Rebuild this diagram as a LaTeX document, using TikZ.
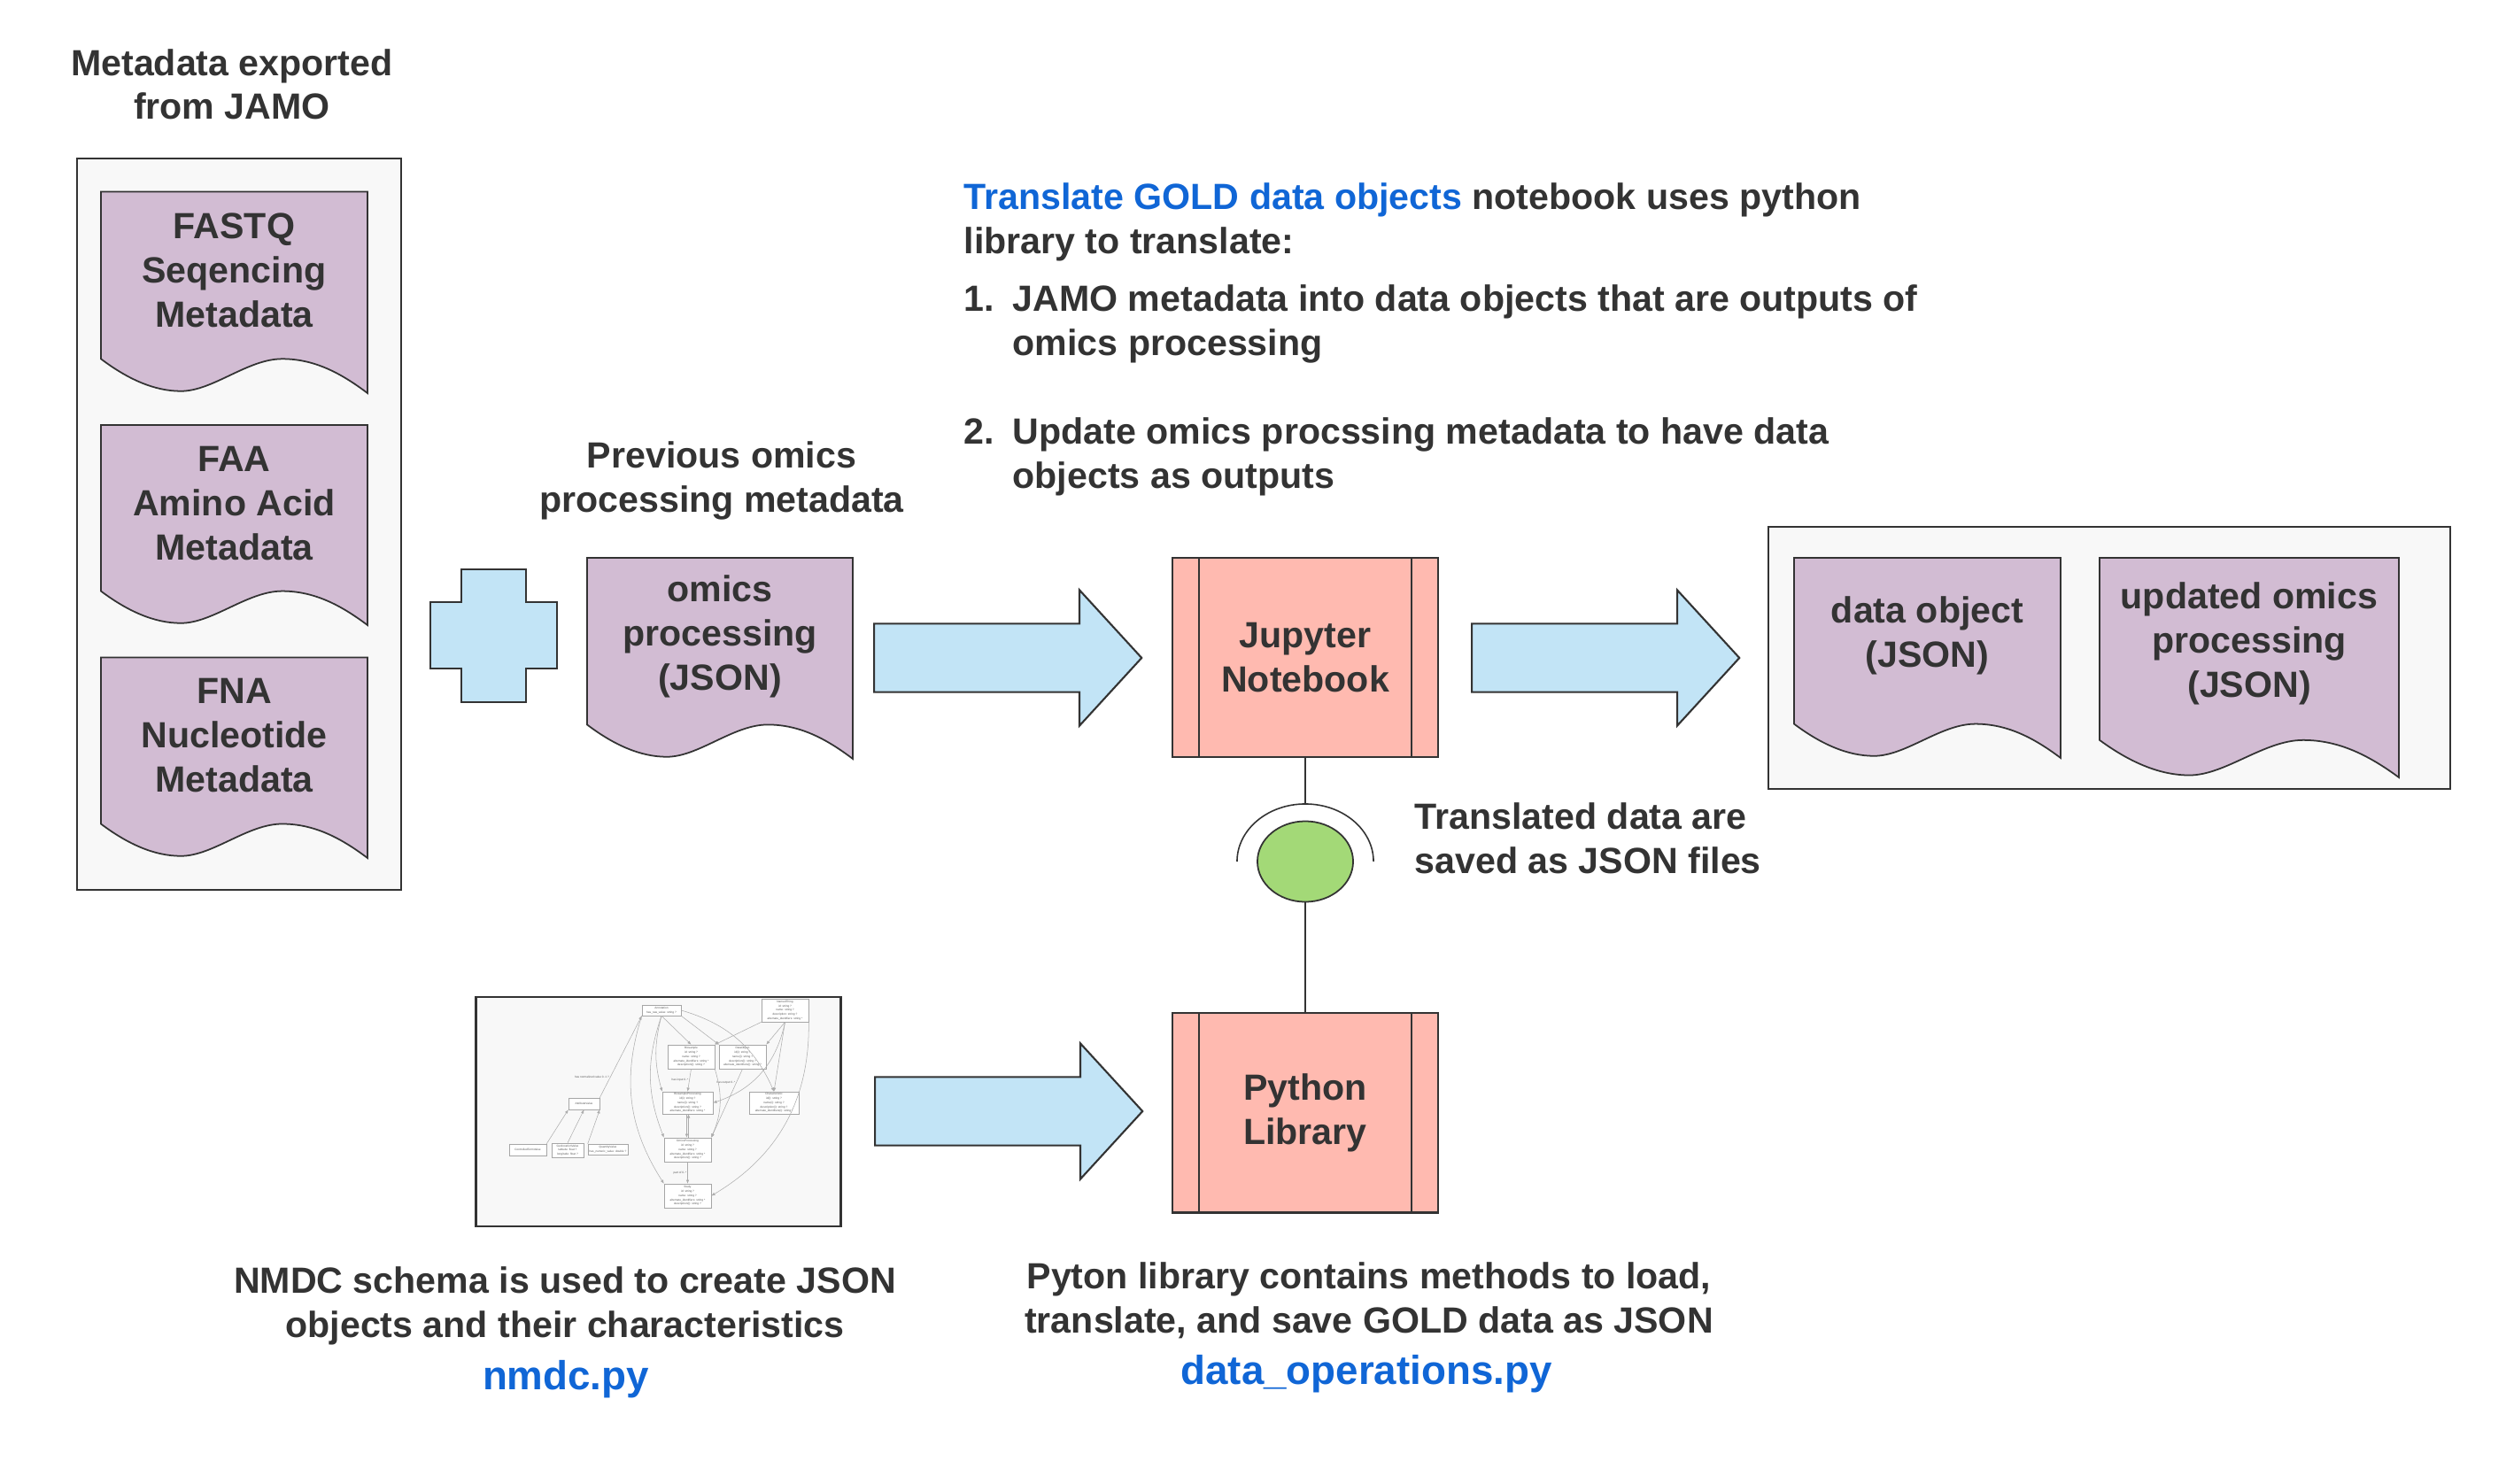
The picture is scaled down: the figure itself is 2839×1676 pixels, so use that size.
\documentclass[tikz,border=0pt]{standalone}
\usepackage{fontspec}
\setmainfont{Liberation Sans}
\usetikzlibrary{shapes,arrows,arrows.meta,positioning,calc}

\definecolor{textgray}{HTML}{333333}
\definecolor{panelfill}{HTML}{F8F8F8}
\definecolor{docfill}{HTML}{D2BCD3}
\definecolor{bluefill}{HTML}{C2E4F6}
\definecolor{procfill}{HTML}{FFBAB0}
\definecolor{greenfill}{HTML}{A3D977}
\definecolor{linkblue}{HTML}{1066D6}

\newcommand{\labelfont}{\fontsize{11.7}{14.2}\selectfont\bfseries}
\newcommand{\linkfont}{\fontsize{13}{15.6}\selectfont\bfseries}
\newcommand{\umlfont}{\fontsize{0.9}{1.35}\selectfont}

\begin{document}
\begin{tikzpicture}[x=0.01cm, y=-0.01cm]
    % Define styles
    \tikzstyle{panel}=[rectangle,draw=textgray,fill=panelfill,line width=0.6pt]
    \tikzstyle{doctext}=[align=center,text=textgray,font=\labelfont,inner sep=0pt]
    \tikzstyle{notetext}=[align=center,text=textgray,font=\labelfont,inner sep=0pt]
    \tikzstyle{linktext}=[text=linkblue,font=\linkfont,inner sep=0pt]
    \tikzstyle{bigarrow}=[single arrow,draw=textgray,fill=bluefill,line width=0.6pt,minimum height=3.02cm,minimum width=1.51cm,single arrow head extend=0.38cm,single arrow tip angle=95,inner xsep=0pt,inner ysep=0.375cm]
    \tikzstyle{procbox}=[rectangle,draw=textgray,fill=procfill,line width=0.6pt,minimum width=3cm,minimum height=2.25cm,align=center,text=textgray,font=\labelfont,
        path picture={\draw[textgray,line width=0.6pt] ([xshift=0.3cm]path picture bounding box.north west) -- ([xshift=0.3cm]path picture bounding box.south west)
            ([xshift=-0.3cm]path picture bounding box.north east) -- ([xshift=-0.3cm]path picture bounding box.south east);}]
    \tikzstyle{thinline}=[draw=textgray,line width=0.45pt]
    \tikzstyle{schemabox}=[rectangle,draw=textgray,fill=panelfill,line width=0.8pt]
    \tikzstyle{umlclass}=[rectangle,draw=gray!70,fill=white,line width=0.15pt,inner sep=0.2pt,align=center,font=\umlfont,text=gray!70!black]
    \tikzstyle{umledge}=[draw=gray!65,line width=0.15pt,-{Latex[length=1.2pt,width=1pt]}]
    \tikzstyle{umllabel}=[font=\umlfont,text=gray!70!black,inner sep=0.3pt]
    \tikzset{pics/docshape/.style n args={3}{code={
        \filldraw[draw=textgray,fill=docfill,line width=0.5pt] (0,0) -- (#1,0) -- (#1,#2)
            .. controls (.9*#1,.9*#2) and (.8*#1,.83*#2) .. (.68*#1,.83*#2)
            .. controls (.55*#1,.83*#2) and (.42*#1,.99*#2) .. (.3*#1,.99*#2)
            .. controls (.2*#1,.99*#2) and (.1*#1,.93*#2) .. (0,.83*#2) -- cycle;
        \node[doctext] (-txt) at (.5*#1,.39*#2) {#3};
    }}}

    \fill[white] (0,0) rectangle (2839,1676);
    \useasboundingbox (0,0) rectangle (2839,1676);

    % JAMO metadata
    \node[notetext, anchor=base] (jamotitle) at (262,135) {Metadata exported\\from JAMO};
    \node[panel, minimum width=3.66cm, minimum height=8.26cm] (jamopanel) at (270,592) {};
    \pic (fastq) at (114,216.5) {docshape={301}{227.5}{FASTQ\\Seqencing\\Metadata}};
    \pic (faa) at (114,480) {docshape={301}{226}{FAA\\Amino Acid\\Metadata}};
    \pic (fna) at (114,742.5) {docshape={301}{226.5}{FNA\\Nucleotide\\Metadata}};

    % Previous omics processing
    \filldraw[draw=textgray,fill=bluefill,line width=0.6pt] (521,643) -- (594,643) -- (594,680) -- (629,680) -- (629,755) -- (594,755)
        -- (594,793) -- (521,793) -- (521,755) -- (486,755) -- (486,680) -- (521,680) -- cycle;
    \node[notetext, anchor=base] (prevlabel) at (815,578) {Previous omics\\processing metadata};
    \pic (omics) at (663,630) {docshape={300}{227}{omics\\processing\\(JSON)}};

    % Notebook
    \node[bigarrow, anchor=tail] (arrowin) at (986,743) {};
    \node[procbox] (jupyter) at (1474,742.5) {Jupyter\\Notebook};
    \node[bigarrow, anchor=tail] (arrowout) at (1661,743) {};

    % Outputs
    \node[panel, minimum width=7.69cm, minimum height=2.96cm] (outpanel) at (2382,743) {};
    \pic (dataobj) at (2026,630) {docshape={301}{226}{data object\\(JSON)}};
    \pic (updated) at (2371,630) {docshape={338}{248}{updated omics\\processing\\(JSON)}};

    % Notebook description
    \node[notetext, align=left, anchor=base west] (intro) at (1088,286.7) {{\color{linkblue}Translate GOLD data objects} notebook uses python\\library to translate:};
    \node[notetext, anchor=base west] (num1) at (1088,351.7) {1.};
    \node[notetext, align=left, anchor=base west] (item1) at (1143,401.7) {JAMO metadata into data objects that are outputs of\\omics processing};
    \node[notetext, anchor=base west] (num2) at (1088,501.7) {2.};
    \node[notetext, align=left, anchor=base west] (item2) at (1143,551.7) {Update omics procssing metadata to have data\\objects as outputs};

    % Python library
    \node[procbox, below=2.87cm of jupyter] (python) {Python\\Library};
    \node[ellipse, draw=textgray, fill=greenfill, line width=0.5pt, minimum width=1.08cm, minimum height=0.91cm, inner sep=0pt] (saved) at (1474,973) {};
    \draw[thinline] (jupyter.south) -- ([yshift=0.65cm]saved.center);
    \draw[thinline] ([xshift=-0.77cm]saved.center) arc[start angle=180, end angle=0, x radius=0.77cm, y radius=0.65cm];
    \draw[thinline] (saved.south) -- (python.north);
    \node[notetext, align=left, anchor=base west] (savedlabel) at (1597,986.5) {Translated data are\\saved as JSON files};
    \node[bigarrow, anchor=tail] (arrowlib) at (987,1255) {};

    % NMDC schema thumbnail
    \node[schemabox, minimum width=4.11cm, minimum height=2.59cm] (schema) at (743.5,1255.5) {};
    \node[umlclass, minimum width=0.44cm, minimum height=0.12cm] (ann) at (747,1141) {Annotation\\has\_raw\_value: string ?};
    \node[umlclass, minimum width=0.53cm, minimum height=0.26cm] (named) at (886.5,1141) {NamedThing\\id: string ?\\name: string ?\\description: string ?\\alternate\_identifiers: string *};
    \node[umlclass, minimum width=0.53cm, minimum height=0.27cm] (biosample) at (780.5,1193.5) {Biosample\\id: string ?\\name: string ?\\alternate\_identifiers: string *\\description(i): string ?};
    \node[umlclass, minimum width=0.53cm, minimum height=0.27cm] (dataobject) at (838.5,1193.5) {DataObject\\id(i): string ?\\name(i): string ?\\description(i): string ?\\alternate\_identifiers(i): string ?};
    \node[umlclass, minimum width=0.35cm, minimum height=0.13cm] (attrval) at (659.5,1246.5) {AttributeValue};
    \node[umlclass, minimum width=0.57cm, minimum height=0.25cm] (bioproc) at (776.5,1245.5) {BiosampleProcessing\\id(i): string ?\\name(i): string ?\\description(i): string ?\\alternate\_identifiers: string *};
    \node[umlclass, minimum width=0.56cm, minimum height=0.25cm] (charac) at (874,1245.5) {Characteristic\\id(i): string ?\\name(i): string ?\\description(i): string ?\\alternate\_identifiers(i): string *};
    \node[umlclass, minimum width=0.42cm, minimum height=0.13cm] (ctv) at (596,1298.5) {ControlledTermValue};
    \node[umlclass, minimum width=0.36cm, minimum height=0.16cm] (geo) at (641,1299) {GeolocationValue\\latitude: float ?\\longitude: float ?};
    \node[umlclass, minimum width=0.45cm, minimum height=0.12cm] (qty) at (686.5,1298) {QuantityValue\\has\_numeric\_value: double ?};
    \node[umlclass, minimum width=0.53cm, minimum height=0.27cm] (omicsproc) at (776.5,1298.5) {OmicsProcessing\\id: string ?\\name: string ?\\alternate\_identifiers: string *\\description(i): string ?};
    \node[umlclass, minimum width=0.53cm, minimum height=0.27cm] (study) at (776.5,1350.5) {Study\\id: string ?\\name: string ?\\alternate\_identifiers: string *\\description(i): string ?};

    \draw[umledge] (attrval.north east) -- (ann.south west) node[pos=0.25, umllabel, left] {has normalized value 0..1 ?};
    \draw[umledge] (ctv.north east) -- (attrval.south west);
    \draw[umledge] (geo.north) -- (attrval.south);
    \draw[umledge] (qty.north west) -- (attrval.south east);
    \draw[umledge] (ann.south) -- (biosample.north);
    \draw[umledge] (ann.south east) -- (dataobject.north west);
    \draw[umledge] (ann.south) to[bend right=15] (bioproc.north west);
    \draw[umledge] (ann.south) to[bend right=20] (omicsproc.north west);
    \draw[umledge] (ann.south west) to[bend right=25] (study.north west);
    \draw[umledge] (ann.east) to[bend left=25] (charac.north) node[pos=0.85, umllabel, left] {has characteristic 0..*};
    \draw[umledge] (biosample.south) -- (bioproc.north) node[midway, umllabel, left] {has input 0..*};
    \draw[umledge] (dataobject.south) -- (omicsproc.north east) node[pos=0.2, umllabel, left] {has output 0..*};
    \draw[umledge] (biosample.south east) to[bend left=20] (omicsproc.north east);
    \draw[umledge] ([xshift=-0.3pt]bioproc.south) -- ([xshift=-0.3pt]omicsproc.north);
    \draw[umledge] ([xshift=0.3pt]omicsproc.north) -- ([xshift=0.3pt]bioproc.south);
    \draw[umledge] (omicsproc.south) -- (study.north) node[midway, umllabel, left] {part of 0..*};
    \draw[umledge] (named.south west) -- (biosample.north east);
    \draw[umledge] (named.south) -- (dataobject.north east);
    \draw[umledge] (named.south) to[bend left=30] (bioproc.east);
    \draw[umledge] (named.south) -- (charac.north);
    \draw[umledge] (named.south east) to[bend left=30] (study.east);

    % Captions
    \node[notetext, anchor=base] (schemalabel) at (638,1510) {NMDC schema is used to create JSON\\objects and their characteristics};
    \node[linktext, anchor=base] (nmdclink) at (639,1569) {nmdc.py};
    \node[notetext, anchor=base] (pylabel) at (1546,1505) {Pyton library contains methods to load,\\translate, and save GOLD data as JSON};
    \node[linktext, anchor=base] (opslink) at (1543,1563) {data\_operations.py};
\end{tikzpicture}
\end{document}
